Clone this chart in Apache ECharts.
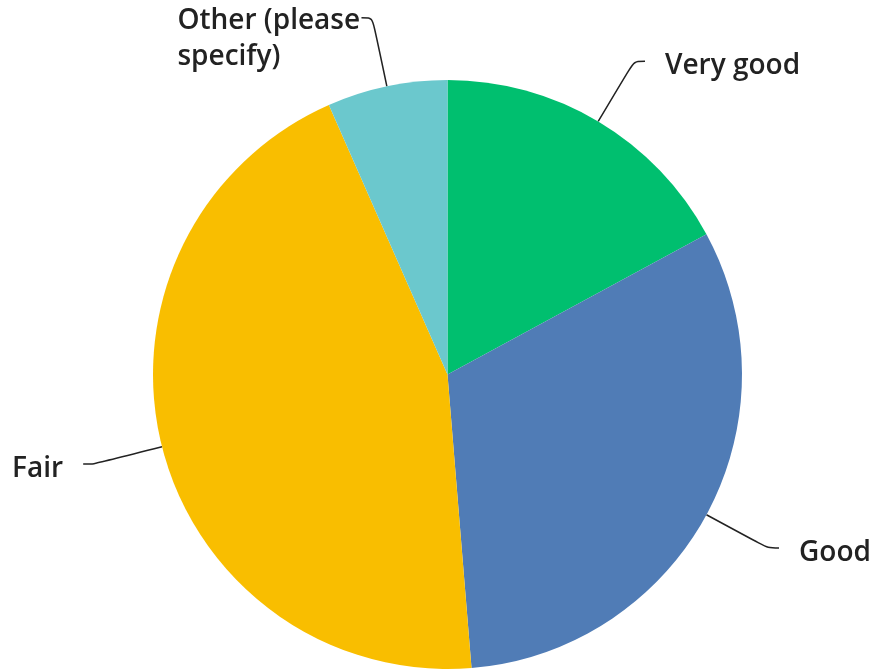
<!DOCTYPE html>
<html>
<head>
<meta charset="utf-8">
<script src="https://cdn.jsdelivr.net/npm/echarts@6/dist/echarts.min.js"></script>
<style>
html,body{margin:0;padding:0;background:#fff;}
#chart{width:875px;height:671px;}
</style>
</head>
<body>
<div id="chart"></div>
<script>
const categories = ["Very good", "Good", "Fair", "Other (please specify)"];
const values = [17.1, 31.6, 44.7, 6.6];
const colors = ["#00BF6F", "#507CB6", "#F9BE00", "#6BC8CD"];

const textStyle = { fontFamily: 'Open Sans', fontWeight: 600, fontSize: 28, lineHeight: 36, color: '#222' };

const chart = echarts.init(document.getElementById('chart'));
chart.setOption({
  animation: false,
  backgroundColor: '#ffffff',
  series: [{
    type: 'pie',
    center: [447.5, 374.5],
    radius: 294.5,
    startAngle: 90,
    clockwise: true,
    avoidLabelOverlap: false,
    data: categories.map((c, i) => ({ name: c, value: values[i], itemStyle: { color: colors[i] } })),
    label: Object.assign({
      show: true,
      formatter: function (p) { return p.dataIndex === 3 ? '{t|' + p.name + '}' : p.name; },
      width: 200,
      overflow: 'break',
      distanceToLabelLine: 20,
      rich: { t: Object.assign({ align: 'left' }, textStyle) }
    }, textStyle),
    labelLine: {
      show: true,
      length: 70,
      length2: 11,
      smooth: 0.3,
      lineStyle: { color: '#222', width: 1.5 }
    },
    labelLayout: function (params) {
      if (params.dataIndex === 3) {
        return { verticalAlign: 'top', dy: -15, dx: 36, labelLinePoints: params.labelLinePoints };
      }
      return { dy: 5, labelLinePoints: params.labelLinePoints };
    }
  }]
});
</script>
</body>
</html>
